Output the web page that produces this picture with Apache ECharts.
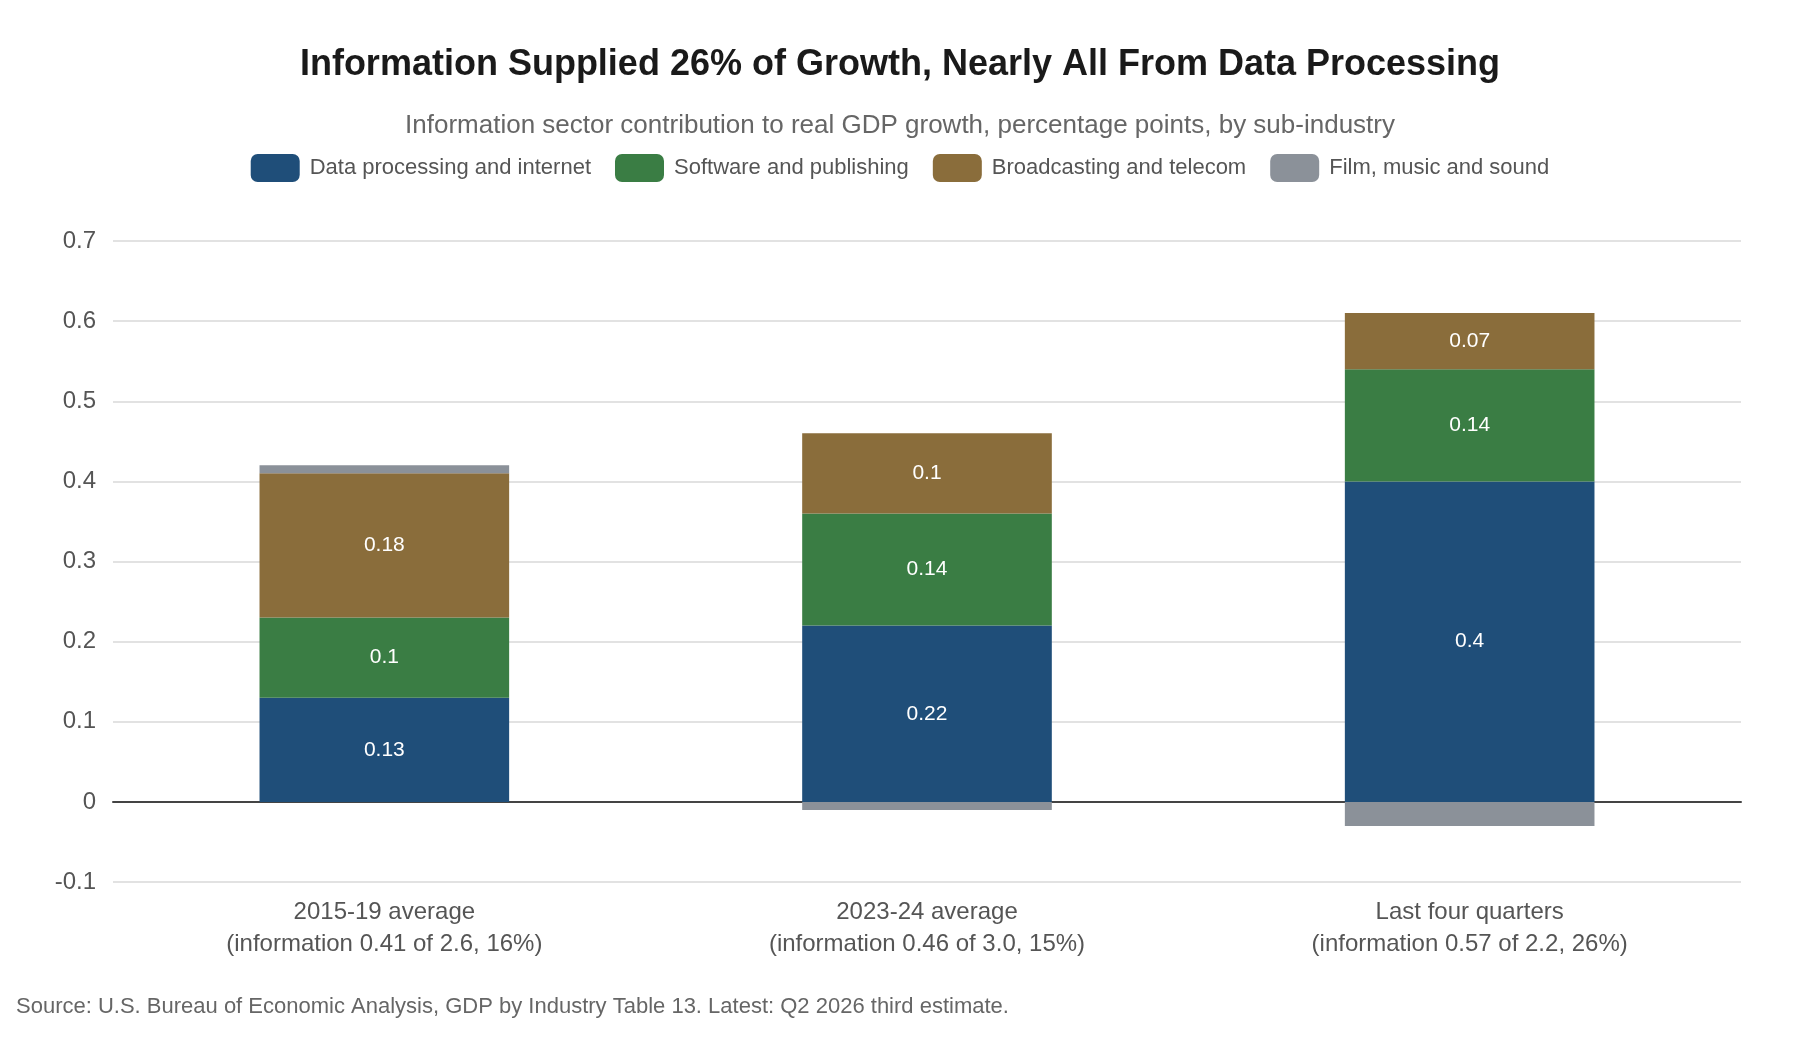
<!DOCTYPE html>
<html>
<head>
<meta charset="utf-8">
<script src="https://cdn.jsdelivr.net/npm/echarts@6/dist/echarts.min.js"></script>
<style>
html,body{margin:0;padding:0;background:#fff;}
#chart{width:1800px;height:1040px;}
</style>
</head>
<body>
<div id="chart"></div>
<script>
const categories = [
  "2015-19 average\n(information 0.41 of 2.6, 16%)",
  "2023-24 average\n(information 0.46 of 3.0, 15%)",
  "Last four quarters\n(information 0.57 of 2.2, 26%)"
];
const seriesNames = ["Data processing and internet", "Software and publishing", "Broadcasting and telecom", "Film, music and sound"];
const dataProcessing = [0.13, 0.22, 0.40];
const softwarePublishing = [0.10, 0.14, 0.14];
const broadcastingTelecom = [0.18, 0.10, 0.07];
const filmMusicSound = [0.01, -0.01, -0.03];
const yTicks = [-0.1, 0, 0.1, 0.2, 0.3, 0.4, 0.5, 0.6, 0.7];
const colors = ["#1f4e79", "#3a7d44", "#8a6d3b", "#8b9199"];

const FONT = "Liberation Sans";
const chart = echarts.init(document.getElementById('chart'), null, {renderer: 'canvas'});

function barSeries(name, data, color, showLabel) {
  return {
    name: name,
    type: 'bar',
    stack: 'total',
    data: data,
    barWidth: '46%',
    itemStyle: {color: color},
    label: {
      show: showLabel,
      position: 'inside',
      color: '#ffffff',
      fontFamily: FONT,
      fontSize: 21,
      formatter: p => String(Math.round(p.value * 100) / 100)
    },
    emphasis: {disabled: true}
  };
}

chart.setOption({
  animation: false,
  backgroundColor: '#ffffff',
  title: [
    {
      text: 'Information Supplied 26% of Growth, Nearly All From Data Processing',
      left: 'center', top: 47, padding: 0,
      textStyle: {fontFamily: FONT, fontSize: 36, fontWeight: 'bold', color: '#1a1a1a', lineHeight: 36}
    },
    {
      text: 'Information sector contribution to real GDP growth, percentage points, by sub-industry',
      left: 'center', top: 113, padding: 0,
      textStyle: {fontFamily: FONT, fontSize: 26, fontWeight: 'normal', color: '#666666', lineHeight: 26}
    }
  ],
  legend: {
    data: seriesNames,
    top: 154,
    left: 'center',
    icon: 'roundRect',
    itemWidth: 49,
    itemHeight: 28,
    itemGap: 24,
    padding: 0,
    textStyle: {fontFamily: FONT, fontSize: 22, color: '#555555', padding: [0, 0, 0, 5]}
  },
  grid: {left: 113, right: 59, top: 241, bottom: 158, containLabel: false},
  xAxis: {
    type: 'category',
    data: categories,
    axisLine: {show: true, onZero: true, lineStyle: {color: '#444444', width: 2}},
    axisTick: {show: false},
    axisLabel: {
      fontFamily: FONT, fontSize: 24, color: '#555555', lineHeight: 32, margin: 14
    }
  },
  yAxis: {
    type: 'value',
    min: yTicks[0],
    max: yTicks[yTicks.length - 1],
    interval: 0.1,
    axisLine: {show: false},
    axisTick: {show: false},
    splitLine: {lineStyle: {color: '#d9d9d9', width: 1.5}},
    axisLabel: {
      fontFamily: FONT, fontSize: 24, color: '#555555', margin: 17,
      formatter: v => String(Math.round(v * 10) / 10)
    }
  },
  series: [
    barSeries(seriesNames[0], dataProcessing, colors[0], true),
    barSeries(seriesNames[1], softwarePublishing, colors[1], true),
    barSeries(seriesNames[2], broadcastingTelecom, colors[2], true),
    barSeries(seriesNames[3], filmMusicSound, colors[3], false)
  ],
  graphic: [
    {
      type: 'text',
      left: 16,
      top: 996,
      style: {
        text: 'Source: U.S. Bureau of Economic Analysis, GDP by Industry Table 13. Latest: Q2 2026 third estimate.',
        fontFamily: FONT, fontSize: 22, fill: '#666666'
      }
    }
  ]
});
</script>
</body>
</html>
